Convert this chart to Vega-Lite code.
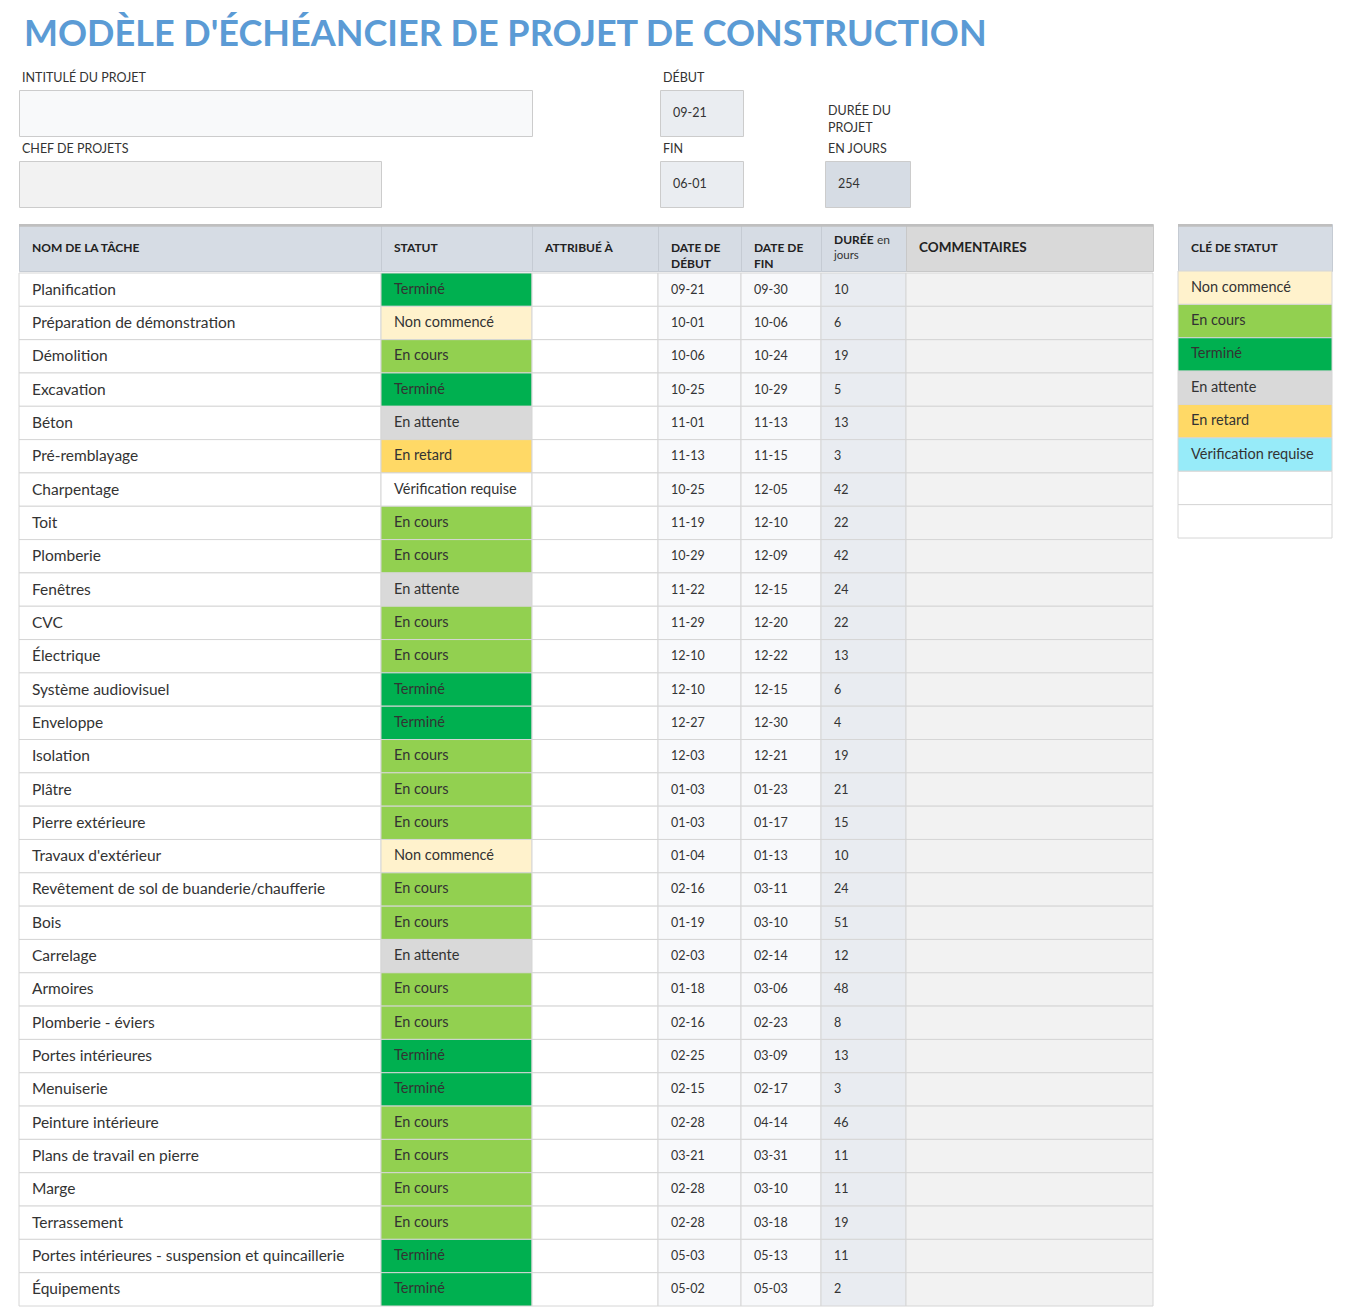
{
  "$schema": "https://vega.github.io/schema/vega-lite/v6.json",
  "padding": {"left": 18, "top": 0, "right": 0, "bottom": 0},
  "background": "white",
  "config": {
    "view": {"stroke": null},
    "text": {"font": "Lato", "fontSize": 15, "align": "left", "baseline": "middle", "color": "#333333"},
    "rect": {"stroke": "#d6d6d6", "strokeWidth": 1},
    "concat": {"spacing": 0}
  },
  "datasets": {
    "tasks": [
      {"row": 1, "task": "Planification", "status": "Terminé", "start": "09-21", "end": "09-30", "dur": "10"},
      {"row": 2, "task": "Préparation de démonstration", "status": "Non commencé", "start": "10-01", "end": "10-06", "dur": "6"},
      {"row": 3, "task": "Démolition", "status": "En cours", "start": "10-06", "end": "10-24", "dur": "19"},
      {"row": 4, "task": "Excavation", "status": "Terminé", "start": "10-25", "end": "10-29", "dur": "5"},
      {"row": 5, "task": "Béton", "status": "En attente", "start": "11-01", "end": "11-13", "dur": "13"},
      {"row": 6, "task": "Pré-remblayage", "status": "En retard", "start": "11-13", "end": "11-15", "dur": "3"},
      {"row": 7, "task": "Charpentage", "status": "Vérification requise", "start": "10-25", "end": "12-05", "dur": "42"},
      {"row": 8, "task": "Toit", "status": "En cours", "start": "11-19", "end": "12-10", "dur": "22"},
      {"row": 9, "task": "Plomberie", "status": "En cours", "start": "10-29", "end": "12-09", "dur": "42"},
      {"row": 10, "task": "Fenêtres", "status": "En attente", "start": "11-22", "end": "12-15", "dur": "24"},
      {"row": 11, "task": "CVC", "status": "En cours", "start": "11-29", "end": "12-20", "dur": "22"},
      {"row": 12, "task": "Électrique", "status": "En cours", "start": "12-10", "end": "12-22", "dur": "13"},
      {"row": 13, "task": "Système audiovisuel", "status": "Terminé", "start": "12-10", "end": "12-15", "dur": "6"},
      {"row": 14, "task": "Enveloppe", "status": "Terminé", "start": "12-27", "end": "12-30", "dur": "4"},
      {"row": 15, "task": "Isolation", "status": "En cours", "start": "12-03", "end": "12-21", "dur": "19"},
      {"row": 16, "task": "Plâtre", "status": "En cours", "start": "01-03", "end": "01-23", "dur": "21"},
      {"row": 17, "task": "Pierre extérieure", "status": "En cours", "start": "01-03", "end": "01-17", "dur": "15"},
      {"row": 18, "task": "Travaux d'extérieur", "status": "Non commencé", "start": "01-04", "end": "01-13", "dur": "10"},
      {"row": 19, "task": "Revêtement de sol de buanderie/chaufferie", "status": "En cours", "start": "02-16", "end": "03-11", "dur": "24"},
      {"row": 20, "task": "Bois", "status": "En cours", "start": "01-19", "end": "03-10", "dur": "51"},
      {"row": 21, "task": "Carrelage", "status": "En attente", "start": "02-03", "end": "02-14", "dur": "12"},
      {"row": 22, "task": "Armoires", "status": "En cours", "start": "01-18", "end": "03-06", "dur": "48"},
      {"row": 23, "task": "Plomberie - éviers", "status": "En cours", "start": "02-16", "end": "02-23", "dur": "8"},
      {"row": 24, "task": "Portes intérieures", "status": "Terminé", "start": "02-25", "end": "03-09", "dur": "13"},
      {"row": 25, "task": "Menuiserie", "status": "Terminé", "start": "02-15", "end": "02-17", "dur": "3"},
      {"row": 26, "task": "Peinture intérieure", "status": "En cours", "start": "02-28", "end": "04-14", "dur": "46"},
      {"row": 27, "task": "Plans de travail en pierre", "status": "En cours", "start": "03-21", "end": "03-31", "dur": "11"},
      {"row": 28, "task": "Marge", "status": "En cours", "start": "02-28", "end": "03-10", "dur": "11"},
      {"row": 29, "task": "Terrassement", "status": "En cours", "start": "02-28", "end": "03-18", "dur": "19"},
      {"row": 30, "task": "Portes intérieures - suspension et quincaillerie", "status": "Terminé", "start": "05-03", "end": "05-13", "dur": "11"},
      {"row": 31, "task": "Équipements", "status": "Terminé", "start": "05-02", "end": "05-03", "dur": "2"}
    ],
    "key": [
      {"k": 1, "status": "Non commencé"},
      {"k": 2, "status": "En cours"},
      {"k": 3, "status": "Terminé"},
      {"k": 4, "status": "En attente"},
      {"k": 5, "status": "En retard"},
      {"k": 6, "status": "Vérification requise"},
      {"k": 7, "status": ""},
      {"k": 8, "status": ""}
    ]
  },
  "spacing": 0,
  "resolve": {"scale": {"x": "independent", "y": "independent", "fill": "independent"}},
  "vconcat": [
    {
      "width": 1314, "height": 60,
      "data": {"values": [{"t": "MODÈLE D'ÉCHÉANCIER DE PROJET DE CONSTRUCTION"}]},
      "mark": {"type": "text", "fontSize": 36, "fontWeight": "bold", "color": "#5b9bd5", "baseline": "alphabetic", "dx": 5, "dy": 16},
      "encoding": {"x": {"datum": 0, "type": "quantitative", "scale": {"domain": [0, 1]}, "axis": null}, "text": {"field": "t"}}
    },
    {
      "spacing": 0,
      "resolve": {"scale": {"x": "independent", "y": "independent", "fill": "independent"}},
      "hconcat": [
        {
          "spacing": 0, "bounds": "flush",
          "resolve": {"scale": {"x": "independent", "y": "independent", "fill": "independent"}},
          "vconcat": [
            {"width": 513, "height": 30, "data": {"values": [{"t": "INTITULÉ DU PROJET"}]},
             "mark": {"type": "text", "fontSize": 12.5, "dx": 3, "dy": 3},
             "encoding": {"x": {"datum": 0, "type": "quantitative", "scale": {"domain": [0, 1]}, "axis": null}, "text": {"field": "t"}}},
            {"width": 513, "height": 46, "view": {"fill": "#f8f9fa", "stroke": "#cccccc"}, "data": {"values": [{"t": ""}]},
             "mark": {"type": "text", "dx": 13},
             "encoding": {"x": {"datum": 0, "type": "quantitative", "scale": {"domain": [0, 1]}, "axis": null}, "text": {"field": "t"}}},
            {"width": 362, "height": 25, "data": {"values": [{"t": "CHEF DE PROJETS"}]},
             "mark": {"type": "text", "fontSize": 12.5, "dx": 3, "dy": 0.5},
             "encoding": {"x": {"datum": 0, "type": "quantitative", "scale": {"domain": [0, 1]}, "axis": null}, "text": {"field": "t"}}},
            {"width": 362, "height": 46, "view": {"fill": "#f2f2f2", "stroke": "#cccccc"}, "data": {"values": [{"t": ""}]},
             "mark": {"type": "text", "dx": 13},
             "encoding": {"x": {"datum": 0, "type": "quantitative", "scale": {"domain": [0, 1]}, "axis": null}, "text": {"field": "t"}}}
          ]
        },
        {"width": 126, "height": 147, "data": {"values": []}, "mark": "text"},
        {
          "spacing": 0, "bounds": "flush",
          "resolve": {"scale": {"x": "independent", "y": "independent", "fill": "independent"}},
          "vconcat": [
            {"width": 83, "height": 30, "data": {"values": [{"t": "DÉBUT"}]},
             "mark": {"type": "text", "fontSize": 12.5, "dx": 3, "dy": 3},
             "encoding": {"x": {"datum": 0, "type": "quantitative", "scale": {"domain": [0, 1]}, "axis": null}, "text": {"field": "t"}}},
            {"width": 83, "height": 46, "view": {"fill": "#eaedf1", "stroke": "#cccccc"}, "data": {"values": [{"t": "09-21"}]},
             "mark": {"type": "text", "fontSize": 12.5, "dx": 13},
             "encoding": {"x": {"datum": 0, "type": "quantitative", "scale": {"domain": [0, 1]}, "axis": null}, "text": {"field": "t"}}},
            {"width": 83, "height": 25, "data": {"values": [{"t": "FIN"}]},
             "mark": {"type": "text", "fontSize": 12.5, "dx": 3, "dy": 0.5},
             "encoding": {"x": {"datum": 0, "type": "quantitative", "scale": {"domain": [0, 1]}, "axis": null}, "text": {"field": "t"}}},
            {"width": 83, "height": 46, "view": {"fill": "#eaedf1", "stroke": "#cccccc"}, "data": {"values": [{"t": "06-01"}]},
             "mark": {"type": "text", "fontSize": 12.5, "dx": 13},
             "encoding": {"x": {"datum": 0, "type": "quantitative", "scale": {"domain": [0, 1]}, "axis": null}, "text": {"field": "t"}}}
          ]
        },
        {"width": 80, "height": 147, "data": {"values": []}, "mark": "text"},
        {
          "spacing": 0, "bounds": "flush",
          "resolve": {"scale": {"x": "independent", "y": "independent", "fill": "independent"}},
          "vconcat": [
            {"width": 85, "height": 101,
             "layer": [
               {"data": {"values": [{"t": "DURÉE DU"}]}, "mark": {"type": "text", "fontSize": 12.5, "dx": 3, "dy": 0.5},
                "encoding": {"x": {"datum": 0, "type": "quantitative", "scale": {"domain": [0, 1]}, "axis": null}, "text": {"field": "t"}}},
               {"data": {"values": [{"t": "PROJET"}]}, "mark": {"type": "text", "fontSize": 12.5, "dx": 3, "dy": 17.5},
                "encoding": {"x": {"datum": 0, "type": "quantitative", "scale": {"domain": [0, 1]}, "axis": null}, "text": {"field": "t"}}},
               {"data": {"values": [{"t": "EN JOURS"}]}, "mark": {"type": "text", "fontSize": 12.5, "dx": 3, "dy": 38.5},
                "encoding": {"x": {"datum": 0, "type": "quantitative", "scale": {"domain": [0, 1]}, "axis": null}, "text": {"field": "t"}}}
             ]},
            {"width": 85, "height": 46, "view": {"fill": "#d6dce4", "stroke": "#cccccc"}, "data": {"values": [{"t": "254"}]},
             "mark": {"type": "text", "fontSize": 12.5, "dx": 13},
             "encoding": {"x": {"datum": 0, "type": "quantitative", "scale": {"domain": [0, 1]}, "axis": null}, "text": {"field": "t"}}}
          ]
        }
      ]
    },
    {"width": 10, "height": 15, "data": {"values": []}, "mark": "text"},
    {
      "spacing": 0,
      "resolve": {"scale": {"x": "independent", "y": "independent", "fill": "independent"}},
      "hconcat": [
        {
          "spacing": 0,
          "resolve": {"scale": {"x": "independent", "y": "independent", "fill": "independent"}},
          "vconcat": [
            {
              "spacing": 0, "bounds": "flush",
              "resolve": {"scale": {"x": "independent", "y": "independent", "fill": "independent"}},
              "hconcat": [
                {"width": 362, "height": 47, "view": {"fill": "#d6dce4", "stroke": "#c5cbd3"}, "data": {"values": [{"t": "NOM DE LA TÂCHE"}]},
                 "layer": [
                   {"mark": {"type": "rect", "fill": "#bfbfbf", "stroke": null}, "encoding": {"x": {"datum": 0, "type": "quantitative", "scale": {"domain": [0, 1]}, "axis": null}, "x2": {"datum": 1}, "y": {"datum": 1, "type": "quantitative", "scale": {"domain": [0, 1]}, "axis": null}, "y2": {"datum": 0.94}}},
                   {"mark": {"type": "text", "fontSize": 12, "fontWeight": "bold", "color": "#222222", "dx": 13}, "encoding": {"x": {"datum": 0, "type": "quantitative", "scale": {"domain": [0, 1]}, "axis": null}, "text": {"field": "t"}}}
                 ]},
                {"width": 151, "height": 47, "view": {"fill": "#d6dce4", "stroke": "#c5cbd3"}, "data": {"values": [{"t": "STATUT"}]},
                 "layer": [
                   {"mark": {"type": "rect", "fill": "#bfbfbf", "stroke": null}, "encoding": {"x": {"datum": 0, "type": "quantitative", "scale": {"domain": [0, 1]}, "axis": null}, "x2": {"datum": 1}, "y": {"datum": 1, "type": "quantitative", "scale": {"domain": [0, 1]}, "axis": null}, "y2": {"datum": 0.94}}},
                   {"mark": {"type": "text", "fontSize": 12, "fontWeight": "bold", "color": "#222222", "dx": 13}, "encoding": {"x": {"datum": 0, "type": "quantitative", "scale": {"domain": [0, 1]}, "axis": null}, "text": {"field": "t"}}}
                 ]},
                {"width": 126, "height": 47, "view": {"fill": "#d6dce4", "stroke": "#c5cbd3"}, "data": {"values": [{"t": "ATTRIBUÉ À"}]},
                 "layer": [
                   {"mark": {"type": "rect", "fill": "#bfbfbf", "stroke": null}, "encoding": {"x": {"datum": 0, "type": "quantitative", "scale": {"domain": [0, 1]}, "axis": null}, "x2": {"datum": 1}, "y": {"datum": 1, "type": "quantitative", "scale": {"domain": [0, 1]}, "axis": null}, "y2": {"datum": 0.94}}},
                   {"mark": {"type": "text", "fontSize": 12, "fontWeight": "bold", "color": "#222222", "dx": 13}, "encoding": {"x": {"datum": 0, "type": "quantitative", "scale": {"domain": [0, 1]}, "axis": null}, "text": {"field": "t"}}}
                 ]},
                {"width": 83, "height": 47, "view": {"fill": "#d6dce4", "stroke": "#c5cbd3"}, "data": {"values": [{"t": "DATE DE\nDÉBUT"}]},
                 "layer": [
                   {"mark": {"type": "rect", "fill": "#bfbfbf", "stroke": null}, "encoding": {"x": {"datum": 0, "type": "quantitative", "scale": {"domain": [0, 1]}, "axis": null}, "x2": {"datum": 1}, "y": {"datum": 1, "type": "quantitative", "scale": {"domain": [0, 1]}, "axis": null}, "y2": {"datum": 0.94}}},
                   {"mark": {"type": "text", "fontSize": 12, "fontWeight": "bold", "color": "#222222", "dx": 13, "lineBreak": "\n", "lineHeight": 16}, "encoding": {"x": {"datum": 0, "type": "quantitative", "scale": {"domain": [0, 1]}, "axis": null}, "text": {"field": "t"}}}
                 ]},
                {"width": 80, "height": 47, "view": {"fill": "#d6dce4", "stroke": "#c5cbd3"}, "data": {"values": [{"t": "DATE DE\nFIN"}]},
                 "layer": [
                   {"mark": {"type": "rect", "fill": "#bfbfbf", "stroke": null}, "encoding": {"x": {"datum": 0, "type": "quantitative", "scale": {"domain": [0, 1]}, "axis": null}, "x2": {"datum": 1}, "y": {"datum": 1, "type": "quantitative", "scale": {"domain": [0, 1]}, "axis": null}, "y2": {"datum": 0.94}}},
                   {"mark": {"type": "text", "fontSize": 12, "fontWeight": "bold", "color": "#222222", "dx": 13, "lineBreak": "\n", "lineHeight": 16}, "encoding": {"x": {"datum": 0, "type": "quantitative", "scale": {"domain": [0, 1]}, "axis": null}, "text": {"field": "t"}}}
                 ]},
                {"width": 85, "height": 47, "view": {"fill": "#d6dce4", "stroke": "#c5cbd3"},
                 "layer": [
                   {"data": {"values": [{"t": "DURÉE"}]}, "mark": {"type": "rect", "fill": "#bfbfbf", "stroke": null}, "encoding": {"x": {"datum": 0, "type": "quantitative", "scale": {"domain": [0, 1]}, "axis": null}, "x2": {"datum": 1}, "y": {"datum": 1, "type": "quantitative", "scale": {"domain": [0, 1]}, "axis": null}, "y2": {"datum": 0.94}}},
                   {"data": {"values": [{"t": "DURÉE"}]}, "mark": {"type": "text", "fontSize": 12, "fontWeight": "bold", "color": "#222222", "dx": 13, "dy": -7.5}, "encoding": {"x": {"datum": 0, "type": "quantitative", "scale": {"domain": [0, 1]}, "axis": null}, "text": {"field": "t"}}},
                   {"data": {"values": [{"t": "en"}]}, "mark": {"type": "text", "fontSize": 12, "color": "#333333", "dx": 56, "dy": -7.5}, "encoding": {"x": {"datum": 0, "type": "quantitative", "scale": {"domain": [0, 1]}, "axis": null}, "text": {"field": "t"}}},
                   {"data": {"values": [{"t": "jours"}]}, "mark": {"type": "text", "fontSize": 11.5, "color": "#333333", "dx": 13, "dy": 8.5}, "encoding": {"x": {"datum": 0, "type": "quantitative", "scale": {"domain": [0, 1]}, "axis": null}, "text": {"field": "t"}}}
                 ]},
                {"width": 247, "height": 47, "view": {"fill": "#d9d9d9", "stroke": "#c8c8c8"}, "data": {"values": [{"t": "COMMENTAIRES"}]},
                 "layer": [
                   {"mark": {"type": "rect", "fill": "#bfbfbf", "stroke": null}, "encoding": {"x": {"datum": 0, "type": "quantitative", "scale": {"domain": [0, 1]}, "axis": null}, "x2": {"datum": 1}, "y": {"datum": 1, "type": "quantitative", "scale": {"domain": [0, 1]}, "axis": null}, "y2": {"datum": 0.94}}},
                   {"mark": {"type": "text", "fontSize": 13.5, "fontWeight": "bold", "color": "#222222", "dx": 13}, "encoding": {"x": {"datum": 0, "type": "quantitative", "scale": {"domain": [0, 1]}, "axis": null}, "text": {"field": "t"}}}
                 ]}
              ]
            },
            {
              "spacing": 0, "bounds": "flush",
              "resolve": {"scale": {"x": "independent", "y": "independent", "fill": "independent"}},
              "hconcat": [
                {"width": 362, "height": 1033, "data": {"name": "tasks"},
                 "encoding": {"y": {"field": "row", "type": "ordinal", "axis": null, "scale": {"paddingInner": 0, "paddingOuter": 0}}},
                 "layer": [
                   {"mark": {"type": "rect", "fill": "#ffffff"}, "encoding": {"x": {"datum": 0, "type": "quantitative", "scale": {"domain": [0, 1]}, "axis": null}, "x2": {"datum": 1}}},
                   {"mark": {"type": "text", "dx": 13, "fontSize": 15.5}, "encoding": {"x": {"datum": 0, "type": "quantitative", "scale": {"domain": [0, 1]}, "axis": null}, "text": {"field": "task"}}}
                 ]},
                {"width": 151, "height": 1033, "data": {"name": "tasks"},
                 "encoding": {"y": {"field": "row", "type": "ordinal", "axis": null, "scale": {"paddingInner": 0, "paddingOuter": 0}}},
                 "layer": [
                   {"mark": {"type": "rect"}, "encoding": {
                     "x": {"datum": 0, "type": "quantitative", "scale": {"domain": [0, 1]}, "axis": null}, "x2": {"datum": 1},
                     "fill": {"field": "status", "type": "nominal", "legend": null,
                       "scale": {"domain": ["Non commencé", "En cours", "Terminé", "En attente", "En retard", "Vérification requise"],
                                 "range": ["#fff2cc", "#92d050", "#00b050", "#d9d9d9", "#ffd966", "#ffffff"]}}}},
                   {"mark": {"type": "text", "dx": 13, "fontSize": 14.5}, "encoding": {"x": {"datum": 0, "type": "quantitative", "scale": {"domain": [0, 1]}, "axis": null}, "text": {"field": "status"}}}
                 ]},
                {"width": 126, "height": 1033, "data": {"name": "tasks"},
                 "encoding": {"y": {"field": "row", "type": "ordinal", "axis": null, "scale": {"paddingInner": 0, "paddingOuter": 0}}},
                 "layer": [
                   {"mark": {"type": "rect", "fill": "#ffffff"}, "encoding": {"x": {"datum": 0, "type": "quantitative", "scale": {"domain": [0, 1]}, "axis": null}, "x2": {"datum": 1}}}
                 ]},
                {"width": 83, "height": 1033, "data": {"name": "tasks"},
                 "encoding": {"y": {"field": "row", "type": "ordinal", "axis": null, "scale": {"paddingInner": 0, "paddingOuter": 0}}},
                 "layer": [
                   {"mark": {"type": "rect", "fill": "#f8f9fb"}, "encoding": {"x": {"datum": 0, "type": "quantitative", "scale": {"domain": [0, 1]}, "axis": null}, "x2": {"datum": 1}}},
                   {"mark": {"type": "text", "dx": 13, "fontSize": 12.5}, "encoding": {"x": {"datum": 0, "type": "quantitative", "scale": {"domain": [0, 1]}, "axis": null}, "text": {"field": "start"}}}
                 ]},
                {"width": 80, "height": 1033, "data": {"name": "tasks"},
                 "encoding": {"y": {"field": "row", "type": "ordinal", "axis": null, "scale": {"paddingInner": 0, "paddingOuter": 0}}},
                 "layer": [
                   {"mark": {"type": "rect", "fill": "#f8f9fb"}, "encoding": {"x": {"datum": 0, "type": "quantitative", "scale": {"domain": [0, 1]}, "axis": null}, "x2": {"datum": 1}}},
                   {"mark": {"type": "text", "dx": 13, "fontSize": 12.5}, "encoding": {"x": {"datum": 0, "type": "quantitative", "scale": {"domain": [0, 1]}, "axis": null}, "text": {"field": "end"}}}
                 ]},
                {"width": 85, "height": 1033, "data": {"name": "tasks"},
                 "encoding": {"y": {"field": "row", "type": "ordinal", "axis": null, "scale": {"paddingInner": 0, "paddingOuter": 0}}},
                 "layer": [
                   {"mark": {"type": "rect", "fill": "#e9ecf1"}, "encoding": {"x": {"datum": 0, "type": "quantitative", "scale": {"domain": [0, 1]}, "axis": null}, "x2": {"datum": 1}}},
                   {"mark": {"type": "text", "dx": 13, "fontSize": 12.5}, "encoding": {"x": {"datum": 0, "type": "quantitative", "scale": {"domain": [0, 1]}, "axis": null}, "text": {"field": "dur"}}}
                 ]},
                {"width": 247, "height": 1033, "data": {"name": "tasks"},
                 "encoding": {"y": {"field": "row", "type": "ordinal", "axis": null, "scale": {"paddingInner": 0, "paddingOuter": 0}}},
                 "layer": [
                   {"mark": {"type": "rect", "fill": "#f2f2f2"}, "encoding": {"x": {"datum": 0, "type": "quantitative", "scale": {"domain": [0, 1]}, "axis": null}, "x2": {"datum": 1}}}
                 ]}
              ]
            }
          ]
        },
        {"width": 23, "height": 300, "data": {"values": []}, "mark": "text"},
        {
          "spacing": 0, "bounds": "flush",
          "resolve": {"scale": {"x": "independent", "y": "independent", "fill": "independent"}},
          "vconcat": [
            {"width": 154, "height": 47, "view": {"fill": "#d6dce4", "stroke": "#c5cbd3"}, "data": {"values": [{"t": "CLÉ DE STATUT"}]},
             "layer": [
               {"mark": {"type": "rect", "fill": "#bfbfbf", "stroke": null}, "encoding": {"x": {"datum": 0, "type": "quantitative", "scale": {"domain": [0, 1]}, "axis": null}, "x2": {"datum": 1}, "y": {"datum": 1, "type": "quantitative", "scale": {"domain": [0, 1]}, "axis": null}, "y2": {"datum": 0.94}}},
               {"mark": {"type": "text", "fontSize": 12, "fontWeight": "bold", "color": "#222222", "dx": 13}, "encoding": {"x": {"datum": 0, "type": "quantitative", "scale": {"domain": [0, 1]}, "axis": null}, "text": {"field": "t"}}}
             ]},
            {"width": 154, "height": 267, "data": {"name": "key"},
             "encoding": {"y": {"field": "k", "type": "ordinal", "axis": null, "scale": {"paddingInner": 0, "paddingOuter": 0}}},
             "layer": [
               {"mark": {"type": "rect"}, "encoding": {
                 "x": {"datum": 0, "type": "quantitative", "scale": {"domain": [0, 1]}, "axis": null}, "x2": {"datum": 1},
                 "fill": {"condition": {"test": "datum.status === ''", "value": "#ffffff"},
                   "field": "status", "type": "nominal", "legend": null,
                   "scale": {"domain": ["Non commencé", "En cours", "Terminé", "En attente", "En retard", "Vérification requise"],
                             "range": ["#fff2cc", "#92d050", "#00b050", "#d9d9d9", "#ffd966", "#97ebf9"]}}}},
               {"mark": {"type": "text", "dx": 13, "fontSize": 14.5}, "encoding": {"x": {"datum": 0, "type": "quantitative", "scale": {"domain": [0, 1]}, "axis": null}, "text": {"field": "status"}}}
             ]}
          ]
        }
      ]
    }
  ]
}
